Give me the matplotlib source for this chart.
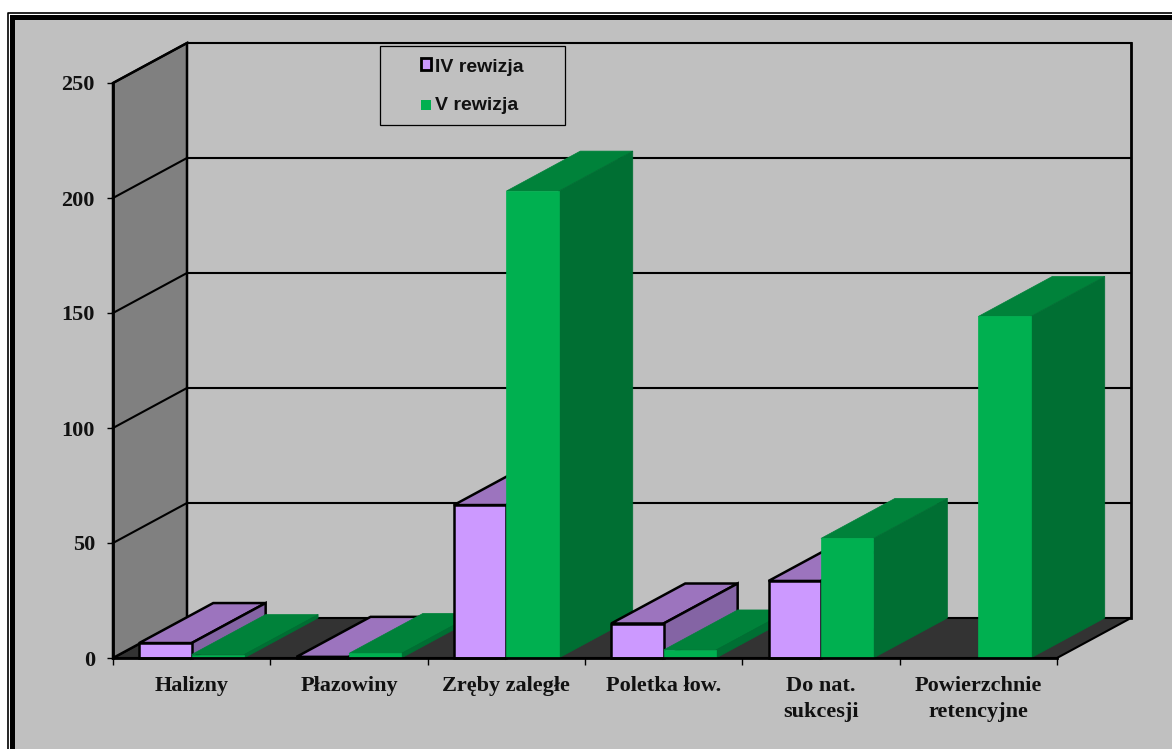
import numpy as np
import matplotlib
matplotlib.use('Agg')
import matplotlib.pyplot as plt
from matplotlib.patches import Rectangle
from matplotlib.lines import Line2D

categories = ['Halizny', 'Płazowiny', 'Zręby zaległe', 'Poletka łow.', 'Do nat.\nsukcesji', 'Powierzchnie\nretencyjne']
iv_rewizja = [6.5, 0.5, 66.5, 15, 33.5, np.nan]
v_rewizja = [1.5, 2, 203, 3.5, 52, 148.5]
y_ticks = [0, 50, 100, 150, 200, 250]
legend_labels = ['IV rewizja', 'V rewizja']

W, H = 1172, 749
BG = '#C0C0C0'

# one category = 157.33 px, 1 unit of value = 2.3 px, value 0 sits at py 658
cat_px = 157.33
val_px = 2.3
x0_px, y0_px = 113, 658
depth_x = 74 / cat_px
depth_y = 40 / val_px
bar_w = 1 / 3

fig = plt.figure(figsize=(W / 100, H / 100), dpi=100, facecolor='white')
ax = fig.add_axes([0, 0, 1, 1])
ax.set_xlim(-x0_px / cat_px, (W - x0_px) / cat_px)
ax.set_ylim((y0_px - H) / val_px, y0_px / val_px)
ax.set_facecolor('white')


def ax_px(px, py):
    return px / W, 1 - py / H


# grey sheet with the double border on top and left
ax.add_patch(Rectangle(ax_px(15, H), (W - 15) / W, (H - 20) / H, transform=ax.transAxes,
                       fc=BG, ec='none', zorder=0))
ax.add_patch(Rectangle(ax_px(10, H), 5 / W, (H - 16) / H, transform=ax.transAxes,
                       fc='black', ec='none', zorder=0.1))
ax.add_patch(Rectangle(ax_px(10, 20), (W - 10) / W, 5 / H, transform=ax.transAxes,
                       fc='black', ec='none', zorder=0.1))
ax.add_line(Line2D([7.5 / W, 7.5 / W, 1], [0, 1 - 12.5 / H, 1 - 12.5 / H], transform=ax.transAxes,
                   color='black', lw=1.2, zorder=0.1))

n = len(categories)
top = y_ticks[-1]

# floor and side wall
ax.fill([0, n, n + depth_x, depth_x], [0, 0, depth_y, depth_y], fc='#333333', ec='black', lw=1.5, zorder=1)
ax.fill([0, depth_x, depth_x, 0], [0, depth_y, top + depth_y, top], fc='#808080', ec='black', lw=1.8, zorder=1)

# grid on the walls
for t in y_ticks[1:]:
    ax.plot([0, depth_x, n + depth_x], [t, t + depth_y, t + depth_y], color='black', lw=1.5, zorder=1.1)
ax.plot([n + depth_x, n + depth_x], [depth_y, top + depth_y], color='black', lw=2, zorder=1.1)


def draw_bar(x, v, front, upper, side, edge, lw, z):
    if np.isnan(v):
        return
    x1 = x + bar_w
    # edge=None means no outline, the face colour closes the seams
    ax.fill([x, x1, x1 + depth_x, x + depth_x], [v, v, v + depth_y, v + depth_y],
            fc=upper, ec=edge or upper, lw=lw, joinstyle='miter', zorder=z)
    ax.fill([x1, x1 + depth_x, x1 + depth_x, x1], [0, depth_y, v + depth_y, v],
            fc=side, ec=edge or side, lw=lw, joinstyle='miter', zorder=z)
    ax.fill([x, x1, x1, x], [0, 0, v, v],
            fc=front, ec=edge or front, lw=lw, joinstyle='miter', zorder=z)


z = 1.2
for i in range(n):
    left = i + 0.5 - bar_w
    draw_bar(left, iv_rewizja[i], '#CC99FF', '#9C74BE', '#8464A4', 'black', 1.8, z)
    z += 0.01
    draw_bar(left + bar_w, v_rewizja[i], '#00B050', '#00823A', '#006F33', None, 0.5, z)
    z += 0.01

# real axes for the ticks, moved onto value 0
for s in ['top', 'right']:
    ax.spines[s].set_visible(False)
ax.spines['bottom'].set_position(('data', 0))
ax.spines['left'].set_position(('data', 0))
ax.spines['bottom'].set_bounds(0, n)
ax.spines['left'].set_bounds(0, top)
ax.spines['bottom'].set_linewidth(2)
ax.spines['left'].set_linewidth(2)
ax.spines['bottom'].set_zorder(3)
ax.spines['left'].set_zorder(3)

serif = 'Liberation Serif'
ax.set_yticks(y_ticks)
ax.set_yticklabels([str(t) for t in y_ticks], fontfamily=serif, fontweight='bold', fontsize=16, color='#111111')
ax.tick_params(axis='y', length=4, width=1, pad=9, direction='out', zorder=3)
ax.set_xticks(np.arange(n + 1))
ax.set_xticklabels([])
ax.set_xticks(np.arange(n) + 0.5, minor=True)
ax.set_xticklabels(categories, minor=True, fontfamily=serif, fontweight='bold', fontsize=16,
                   color='#111111', linespacing=1.4)
ax.tick_params(axis='x', which='major', length=5, width=1, direction='out')
ax.tick_params(axis='x', which='minor', length=0, pad=13)

# legend box
ax.add_patch(Rectangle(ax_px(380.5, 124.5), 184 / W, 78 / H, transform=ax.transAxes,
                       fc=BG, ec='black', lw=0.9, zorder=4))
ax.add_patch(Rectangle(ax_px(421, 70), 10 / W, 12 / H, transform=ax.transAxes,
                       fc='#CC99FF', ec='black', lw=2, zorder=5))
ax.add_patch(Rectangle(ax_px(421, 110), 10 / W, 10 / H, transform=ax.transAxes,
                       fc='#00B050', ec='none', zorder=5))
for label, py in zip(legend_labels, [67, 105]):
    tx, ty = ax_px(435, py)
    ax.text(tx, ty, label, transform=ax.transAxes, ha='left', va='center', fontfamily='Liberation Sans',
            fontweight='bold', fontsize=14, color='#111111', zorder=5)

fig.savefig('out.png', dpi=100)
